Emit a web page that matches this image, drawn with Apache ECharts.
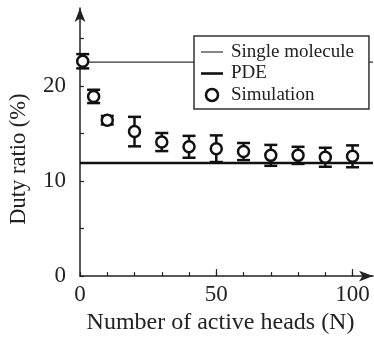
<!DOCTYPE html>
<html>
<head>
<meta charset="utf-8">
<script src="https://cdn.jsdelivr.net/npm/echarts@6/dist/echarts.min.js"></script>
<style>
    html, body { margin: 0; padding: 0; background: #fff; }
    #main { width: 374px; height: 340px; }
</style>
</head>
<body>
<div id="main"></div>
<script>
// 模拟数据
var heads = [1, 5, 10, 20, 30, 40, 50, 60, 70, 80, 90, 100];
var dutySim = [22.6, 18.9, 16.4, 15.2, 14.1, 13.6, 13.4, 13.1, 12.7, 12.7, 12.5, 12.6];
var dutyErr = [0.75, 0.7, 0.45, 1.55, 0.95, 1.15, 1.4, 0.9, 1.1, 0.9, 1.0, 1.15];
var singleMolecule = 22.5;
var pdeValue = 11.9;
var xTicks = [0, 10, 20, 30, 40, 50, 60, 70, 80, 90, 100];
var xLabels = [0, 50, 100];
var yTicks = [0, 5, 10, 15, 20, 25];
var yLabels = [0, 10, 20];

var font = "'Liberation Serif', 'Times New Roman', serif";
var ink = '#222';
var xMax = 107.5;

var simData = heads.map(function (x, i) { return [x, dutySim[i]]; });
var errData = heads.map(function (x, i) { return [x, dutySim[i], dutyErr[i]]; });

var myChart = echarts.init(document.getElementById('main'));
myChart.setOption({
    animation: false,
    textStyle: { fontFamily: font, color: ink },
    grid: { left: 77, top: 8, right: 1, bottom: 63 },
    legend: {
        orient: 'vertical',
        left: 194,
        top: 36,
        padding: [6, 15, 4, 7],
        itemGap: 1.5,
        itemWidth: 22,
        itemHeight: 12,
        borderColor: '#333',
        borderWidth: 1.5,
        backgroundColor: '#fff',
        textStyle: { fontFamily: font, fontSize: 19, color: ink, lineHeight: 20, padding: [0, 0, 0, 3] },
        data: [
            { name: 'Single molecule', icon: 'path://M0,0L22,0L22,1.2L0,1.2Z', itemStyle: { color: '#333' } },
            { name: 'PDE', icon: 'path://M0,0L22,0L22,2.6L0,2.6Z', itemStyle: { color: '#111' } },
            { name: 'Simulation', icon: 'circle', itemStyle: { color: '#fff', borderColor: '#111', borderWidth: 2.5 } }
        ]
    },
    xAxis: [
        {
            type: 'value',
            min: 0,
            max: xMax,
            name: 'Number of active heads (N)',
            nameLocation: 'middle',
            nameGap: 33,
            nameTextStyle: { fontFamily: font, fontSize: 24, color: ink, padding: [0, 12, 0, 0] },
            axisLine: { show: true, lineStyle: { color: ink, width: 1.5 }, symbol: ['none', 'arrow'], symbolSize: [8, 14] },
            axisTick: { show: true, inside: true, length: 4, customValues: xTicks, lineStyle: { color: ink, width: 1.2 } },
            axisLabel: { customValues: xLabels, fontFamily: font, fontSize: 23, color: ink, margin: 7 },
            splitLine: { show: false }
        },
        {
            type: 'value',
            min: 0,
            max: xMax,
            position: 'bottom',
            axisLine: { show: false },
            axisTick: { show: true, inside: true, length: 7, customValues: [50, 100], lineStyle: { color: ink, width: 1.2 } },
            axisLabel: { show: false },
            splitLine: { show: false }
        }
    ],
    yAxis: {
        type: 'value',
        min: 0,
        max: 28.2,
        name: 'Duty ratio (%)',
        nameLocation: 'middle',
        nameGap: 49,
        nameTextStyle: { fontFamily: font, fontSize: 22.5, color: ink, padding: [0, 34, 0, 0] },
        axisLine: { show: true, lineStyle: { color: ink, width: 1.5 }, symbol: ['none', 'arrow'], symbolSize: [8, 14] },
        axisTick: { show: true, inside: true, length: 4, customValues: yTicks, lineStyle: { color: ink, width: 1.2 } },
        axisLabel: { customValues: yLabels, fontFamily: font, fontSize: 23, color: ink, margin: 14 },
        splitLine: { show: false }
    },
    series: [
        {
            name: 'Single molecule',
            type: 'line',
            symbol: 'none',
            lineStyle: { color: '#333', width: 1.2 },
            itemStyle: { color: '#333' },
            data: [[0, singleMolecule], [xMax, singleMolecule]],
            z: 1
        },
        {
            name: 'PDE',
            type: 'line',
            symbol: 'none',
            lineStyle: { color: '#111', width: 2.6 },
            itemStyle: { color: '#111' },
            data: [[0, pdeValue], [xMax, pdeValue]],
            z: 1
        },
        {
            name: 'errorbar',
            type: 'custom',
            z: 3,
            renderItem: function (params, api) {
                var x = api.value(0), y = api.value(1), e = api.value(2);
                var top = api.coord([x, y + e]);
                var bot = api.coord([x, y - e]);
                var hw = 6.5;
                var style = { stroke: '#111', lineWidth: 2.5, fill: null };
                return {
                    type: 'group',
                    children: [
                        { type: 'line', shape: { x1: top[0], y1: top[1], x2: bot[0], y2: bot[1] }, style: style },
                        { type: 'line', shape: { x1: top[0] - hw, y1: top[1], x2: top[0] + hw, y2: top[1] }, style: style },
                        { type: 'line', shape: { x1: bot[0] - hw, y1: bot[1], x2: bot[0] + hw, y2: bot[1] }, style: style }
                    ]
                };
            },
            data: errData
        },
        {
            name: 'Simulation',
            type: 'scatter',
            symbol: 'circle',
            symbolSize: 11,
            itemStyle: { color: '#fff', borderColor: '#111', borderWidth: 2.5, opacity: 1 },
            data: simData,
            z: 4
        }
    ]
});
</script>
</body>
</html>
